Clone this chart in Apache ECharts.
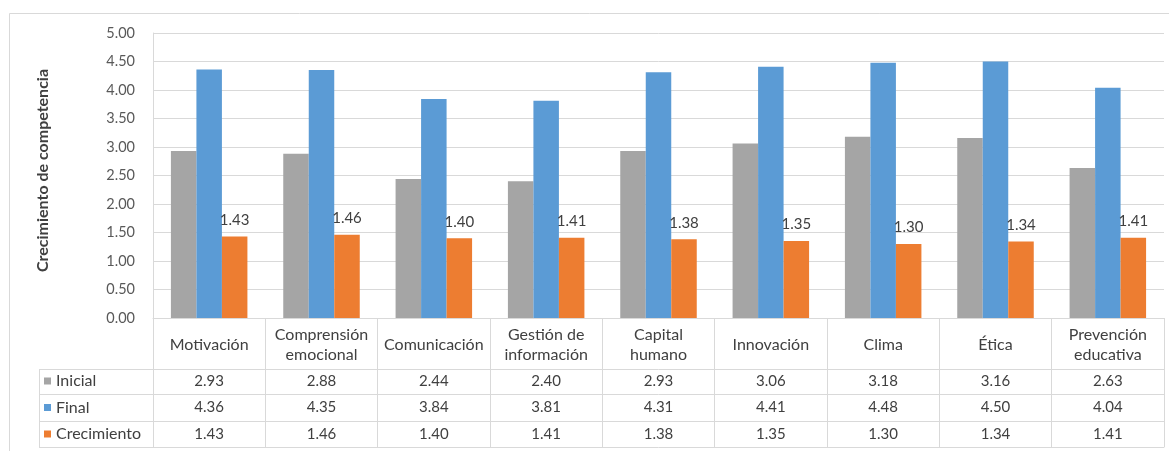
<!DOCTYPE html>
<html>
<head>
<meta charset="utf-8">
<script src="https://cdn.jsdelivr.net/npm/echarts@6/dist/echarts.min.js"></script>
<style>
  html, body { margin: 0; padding: 0; background: #ffffff; }
  #chart { width: 1169px; height: 451px; }
</style>
</head>
<body>
<div id="chart"></div>
<script>
// Competencias evaluadas y puntuaciones medias
const categories = [
  'Motivación', 'Comprensión\nemocional', 'Comunicación', 'Gestión de\ninformación',
  'Capital\nhumano', 'Innovación', 'Clima', 'Ética', 'Prevención\neducativa'
];
const seriesNames = ['Inicial', 'Final', 'Crecimiento'];
const inicial = [2.93, 2.88, 2.44, 2.40, 2.93, 3.06, 3.18, 3.16, 2.63];
const final = [4.36, 4.35, 3.84, 3.81, 4.31, 4.41, 4.48, 4.50, 4.04];
const crecimiento = [1.43, 1.46, 1.40, 1.41, 1.38, 1.35, 1.30, 1.34, 1.41];
const yMin = 0, yMax = 5, yStep = 0.5;
const yTitle = 'Crecimiento de competencia';

// Layout
const FONT = 'Lato, "Liberation Sans", sans-serif';
const TEXT = '#404040';
const AXIS_TEXT = '#595959';
const LINE = '#d9d9d9';
const colors = ['#a5a5a5', '#5b9bd5', '#ed7d31'];
const grid = { left: 153, right: 5, top: 33, bottom: 133 };
const W = 1169, H = 451;
const headerH = 51;               // category-name row of the data table
const rowH = [25, 27, 26];        // Inicial, Final, Crecimiento rows
const legendLeft = 39;            // left border of the table's legend column

const fmt = v => v.toFixed(2);
const rows = [inicial, final, crecimiento];

const baseY = H - grid.bottom;
const rowTops = [];
let acc = headerH;
rowH.forEach(h => { rowTops.push(acc); acc += h; });
const tableBottom = acc;

// Data table: one category axis per row, ticks at boundaries draw the cell walls
const xAxes = [{
  type: 'category',
  data: categories,
  gridIndex: 0,
  position: 'bottom',
  axisLine: { show: true, lineStyle: { color: LINE, width: 1 } },
  axisTick: { show: true, alignWithLabel: false, interval: 0, length: headerH, lineStyle: { color: LINE } },
  axisLabel: {
    interval: 0, margin: headerH / 2 + 1, verticalAlign: 'middle',
    color: TEXT, fontSize: 16, lineHeight: 20, fontFamily: FONT
  },
  splitLine: { show: false }
}];
rows.forEach((vals, i) => {
  xAxes.push({
    type: 'category',
    data: vals.map(fmt),
    gridIndex: 0,
    position: 'bottom',
    offset: rowTops[i],
    axisLine: { show: true, lineStyle: { color: LINE, width: 1 } },
    axisTick: { show: true, alignWithLabel: false, interval: 0, length: rowH[i], lineStyle: { color: LINE } },
    axisLabel: {
      interval: 0, margin: rowH[i] / 2, verticalAlign: 'middle',
      color: TEXT, fontSize: 15, fontFamily: FONT
    },
    splitLine: { show: false }
  });
});
xAxes.push({
  type: 'category',
  data: categories.map(() => ''),
  gridIndex: 0,
  position: 'bottom',
  offset: tableBottom,
  axisLine: { show: true, lineStyle: { color: LINE, width: 1 } },
  axisTick: { show: false },
  axisLabel: { show: false }
});

// Chart frame and the borders of the table's legend column
const graphics = [{
  type: 'rect',
  silent: true,
  shape: { x: 9.5, y: 13.5, width: W + 20, height: H + 20 },
  style: { fill: null, stroke: LINE, lineWidth: 1 }
}];
[...rowTops, tableBottom].forEach(t => {
  graphics.push({
    type: 'line', silent: true,
    shape: { x1: legendLeft, y1: baseY + t + 0.5, x2: grid.left, y2: baseY + t + 0.5 },
    style: { stroke: LINE, lineWidth: 1 }
  });
});
graphics.push({
  type: 'line', silent: true,
  shape: { x1: legendLeft + 0.5, y1: baseY + rowTops[0], x2: legendLeft + 0.5, y2: baseY + tableBottom },
  style: { stroke: LINE, lineWidth: 1 }
});

const seriesData = [inicial, final, crecimiento];
const option = {
  animation: false,
  backgroundColor: '#ffffff',
  color: colors,
  textStyle: { fontFamily: FONT },
  grid: Object.assign({ containLabel: false, outerBoundsMode: 'none' }, grid),
  legend: {
    data: seriesNames,
    orient: 'vertical',
    left: legendLeft + 5,
    top: baseY + rowTops[0] + 4,
    itemWidth: 7,
    itemHeight: 7,
    itemGap: 10.5,
    icon: 'rect',
    padding: 0,
    selectedMode: false,
    textStyle: { color: TEXT, fontSize: 16, fontFamily: FONT, lineHeight: 16 }
  },
  xAxis: xAxes,
  yAxis: {
    type: 'value',
    min: yMin, max: yMax, interval: yStep,
    name: yTitle,
    nameLocation: 'middle',
    nameRotate: 90,
    nameGap: 102,
    nameTextStyle: { color: TEXT, fontSize: 16, fontWeight: 'bold', fontFamily: FONT, padding: [0, 0, 0, 10] },
    axisLine: { show: true, lineStyle: { color: LINE } },
    axisTick: { show: false },
    axisLabel: { color: AXIS_TEXT, fontSize: 14.5, margin: 18, fontFamily: FONT, formatter: v => v.toFixed(2) },
    splitLine: { show: true, lineStyle: { color: LINE, width: 1 } }
  },
  graphic: graphics,
  series: seriesNames.map((name, i) => ({
    name,
    type: 'bar',
    xAxisIndex: 0,
    yAxisIndex: 0,
    data: seriesData[i],
    barWidth: 25.5,
    barGap: '0%',
    itemStyle: { color: colors[i] },
    label: i === 2 ? {
      show: true, position: 'top', distance: 9,
      color: TEXT, fontSize: 15, fontFamily: FONT,
      formatter: p => fmt(p.value)
    } : { show: false }
  }))
};

const chart = echarts.init(document.getElementById('chart'), null, { renderer: 'canvas', width: W, height: H });
chart.setOption(option);
</script>
</body>
</html>
